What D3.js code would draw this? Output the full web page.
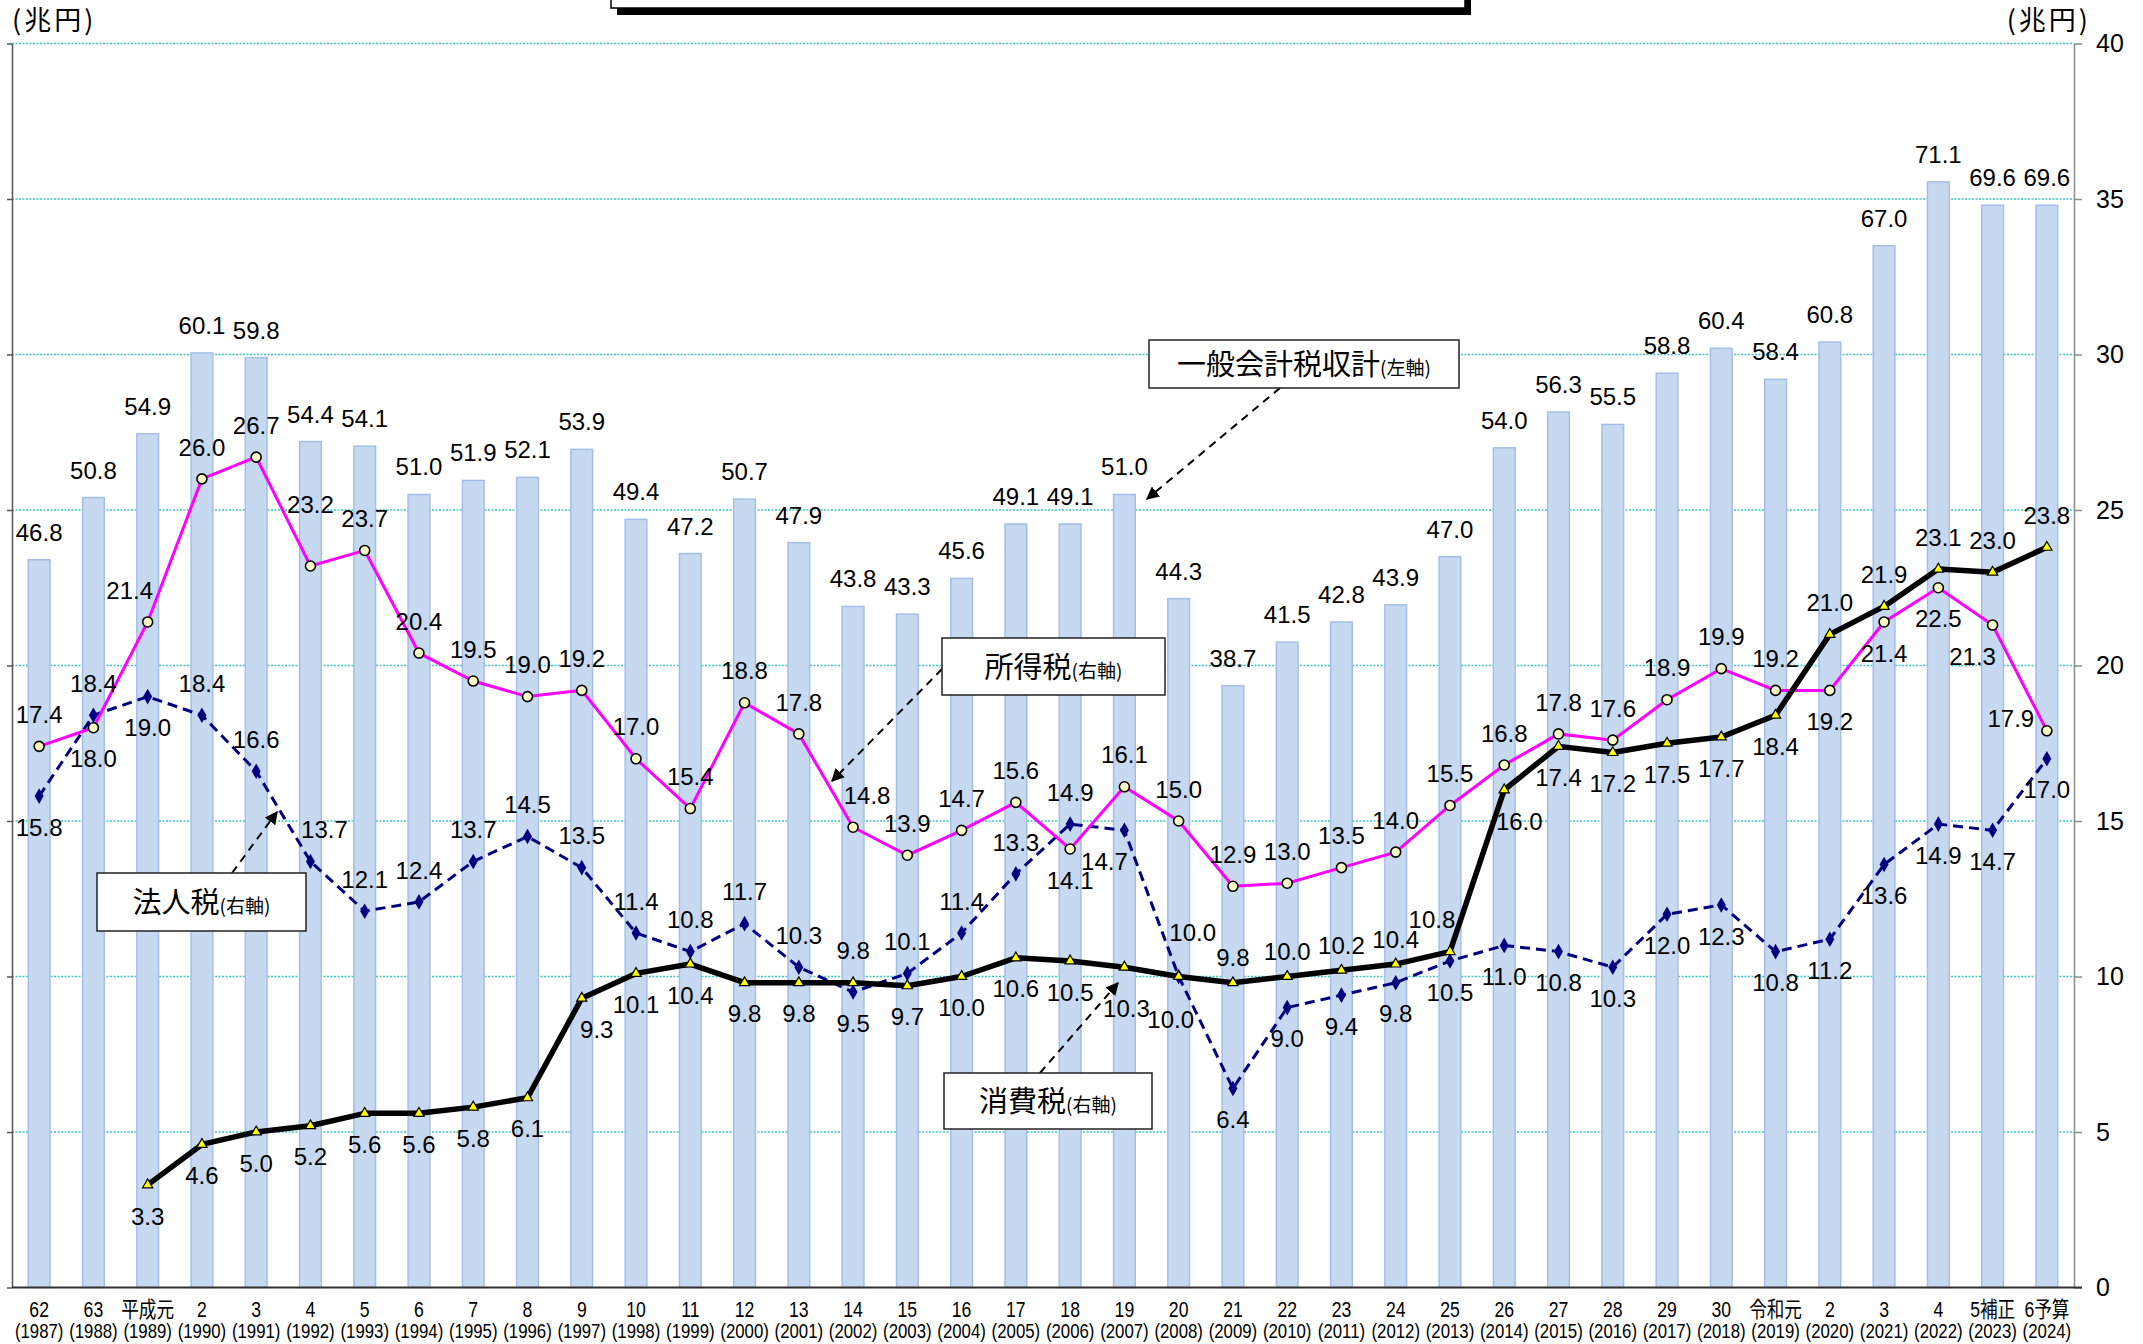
<!DOCTYPE html>
<html lang="ja">
<head>
<meta charset="utf-8">
<title>一般会計税収の推移</title>
<script src="https://d3js.org/d3.v7.min.js"></script>
<style>
  body { margin: 0; background: #fff; }
  text { font-family: "Liberation Sans", Arial, "Noto Sans CJK JP", sans-serif; fill: #000; }
  .jp { font-family: "Noto Sans CJK JP", sans-serif; }
</style>
</head>
<body>
<div id="chart"></div>
<script>
// 年度（和暦・西暦）
var eras = ["62","63","平成元","2","3","4","5","6","7","8","9","10","11","12","13","14","15","16","17","18","19","20",
            "21","22","23","24","25","26","27","28","29","30","令和元","2","3","4","5補正","6予算"];
var years = ["(1987)","(1988)","(1989)","(1990)","(1991)","(1992)","(1993)","(1994)","(1995)","(1996)","(1997)","(1998)",
             "(1999)","(2000)","(2001)","(2002)","(2003)","(2004)","(2005)","(2006)","(2007)","(2008)","(2009)","(2010)",
             "(2011)","(2012)","(2013)","(2014)","(2015)","(2016)","(2017)","(2018)","(2019)","(2020)","(2021)","(2022)",
             "(2023)","(2024)"];

// 一般会計税収計（左軸）
var total = [46.8,50.8,54.9,60.1,59.8,54.4,54.1,51.0,51.9,52.1,53.9,49.4,47.2,50.7,47.9,43.8,43.3,45.6,49.1,49.1,
             51.0,44.3,38.7,41.5,42.8,43.9,47.0,54.0,56.3,55.5,58.8,60.4,58.4,60.8,67.0,71.1,69.6,69.6];
// 所得税（右軸）
var income = [17.4,18.0,21.4,26.0,26.7,23.2,23.7,20.4,19.5,19.0,19.2,17.0,15.4,18.8,17.8,14.8,13.9,14.7,15.6,14.1,
              16.1,15.0,12.9,13.0,13.5,14.0,15.5,16.8,17.8,17.6,18.9,19.9,19.2,19.2,21.4,22.5,21.3,17.9];
// 法人税（右軸）
var corp = [15.8,18.4,19.0,18.4,16.6,13.7,12.1,12.4,13.7,14.5,13.5,11.4,10.8,11.7,10.3,9.5,10.1,11.4,13.3,14.9,
            14.7,10.0,6.4,9.0,9.4,9.8,10.5,11.0,10.8,10.3,12.0,12.3,10.8,11.2,13.6,14.9,14.7,17.0];
// 消費税（右軸）
var consumption = [null,null,3.3,4.6,5.0,5.2,5.6,5.6,5.8,6.1,9.3,10.1,10.4,9.8,9.8,9.8,9.7,10.0,10.6,10.5,
                   10.3,10.0,9.8,10.0,10.2,10.4,10.8,16.0,17.4,17.2,17.5,17.7,18.4,21.0,21.9,23.1,23.0,23.8];

var rightTicks = [0,5,10,15,20,25,30,35,40];

// label placement (a=above, b=below, l=left ...)
var incomePos = ["a","b","al","a","a","aa","a","a","a","a","a","a","a","a","a","ar","a","a","a","b",
                 "a","a","a","a","a","a","a","a","a","a","a","a","a","b","b","b","bl","l"];
var corpPos = ["b","a","b","a","a","ar","a","a","a","a","a","a","a","a","a","b","a","a","a","a",
               "bl","ah","b","b","b","b","b","b","b","b","b","b","b","b","b","b","b","b"];
var consPos = [null,null,"b","b","b","b","b","b","b","b","br","b","b","b","b","a","b","b","b","b",
               "bb","bbl","as","as","as","as","al","br","b","b","b","b","b","a","a","a","a","a"];

var offsets = { a:[0,-32], aa:[0,-62], ah:[14,-44], as:[0,-25], b:[0,31], bb:[2,41], bbl:[-8,43],
                al:[-18,-32], ar:[14,-32], bl:[-20,31], br:[15,31], l:[-36,-12] };

var W = 2143, H = 1344;
var plot = { left: 12, right: 2074, top: 43.5, bottom: 1287.5 };

var svg = d3.select("#chart").append("svg")
    .attr("width", W).attr("height", H)
    .style("background", "#fff");

var x = d3.scaleBand().domain(years).range([plot.left, plot.right]).paddingInner(0.6).paddingOuter(0.3);
var yL = d3.scaleLinear().domain([0, 80]).range([plot.bottom, plot.top]);
var yR = d3.scaleLinear().domain([0, 40]).range([plot.bottom, plot.top]);
function cx(i) { return x(years[i]) + x.bandwidth() / 2; }

var defs = svg.append("defs");
defs.append("marker")
    .attr("id", "arrow")
    .attr("viewBox", "0 0 10 10")
    .attr("refX", 9).attr("refY", 5)
    .attr("markerWidth", 13).attr("markerHeight", 13)
    .attr("markerUnits", "userSpaceOnUse")
    .attr("orient", "auto")
  .append("path")
    .attr("d", "M0,0 L10,5 L0,10 z")
    .attr("fill", "#000");

// title box (cut at the top)
svg.append("rect").attr("x", 617).attr("y", -20).attr("width", 854).attr("height", 35).attr("fill", "#000");
svg.append("rect").attr("x", 611).attr("y", -20).attr("width", 854).attr("height", 28)
    .attr("fill", "#fff").attr("stroke", "#000").attr("stroke-width", 1.5);

// gridlines
svg.append("g").selectAll("line")
  .data(rightTicks.filter(function(t) { return t > 0; }))
  .enter().append("line")
    .attr("x1", plot.left).attr("x2", plot.right)
    .attr("y1", function(d) { return yR(d); })
    .attr("y2", function(d) { return yR(d); })
    .attr("stroke", "#3cc6c6")
    .attr("stroke-width", 1.3)
    .attr("stroke-dasharray", "2,1.5");

// bars
svg.append("g").selectAll("rect")
  .data(total)
  .enter().append("rect")
    .attr("x", function(d, i) { return x(years[i]); })
    .attr("y", function(d) { return yL(d); })
    .attr("width", x.bandwidth())
    .attr("height", function(d) { return plot.bottom - yL(d); })
    .attr("fill", "#c6d9f1")
    .attr("stroke", "#a4bfe7")
    .attr("stroke-width", 1.5);

svg.append("g").selectAll("text")
  .data(total)
  .enter().append("text")
    .attr("x", function(d, i) { return cx(i); })
    .attr("y", function(d) { return yL(d) - 19; })
    .attr("text-anchor", "middle")
    .style("font-size", "24px")
    .text(function(d) { return d.toFixed(1); });

// axes
var leftAxis = svg.append("g")
    .attr("transform", "translate(" + plot.left + ",0)")
    .call(d3.axisLeft(yL).tickValues(d3.range(0, 81, 10)).tickSize(5).tickSizeOuter(0).tickFormat(""));
leftAxis.selectAll("path, line").attr("stroke", "#555").attr("stroke-width", 1.5);

var rightAxis = svg.append("g")
    .attr("transform", "translate(" + plot.right + ",0)")
    .call(d3.axisRight(yR).tickValues(rightTicks).tickSize(8).tickSizeOuter(0).tickPadding(14));
rightAxis.selectAll("path, line").attr("stroke", "#8c8c8c").attr("stroke-width", 1.5);
rightAxis.selectAll("text")
    .style("font-size", "25px")
    .style("font-family", "'Liberation Sans', Arial, sans-serif");

svg.append("line")
    .attr("x1", plot.left).attr("x2", plot.right + 8)
    .attr("y1", plot.bottom).attr("y2", plot.bottom)
    .attr("stroke", "#333").attr("stroke-width", 2);

// x labels
var xl = svg.append("g").selectAll("g")
  .data(years)
  .enter().append("g")
    .attr("transform", function(d, i) { return "translate(" + cx(i) + "," + plot.bottom + ")"; });
xl.append("text")
    .attr("y", 30)
    .attr("text-anchor", "middle")
    .attr("transform", "scale(0.8,1)")
    .style("font-size", "22px")
    .text(function(d, i) { return eras[i]; });
xl.append("text")
    .attr("y", 51)
    .attr("text-anchor", "middle")
    .attr("transform", "scale(0.8,1)")
    .style("font-size", "21px")
    .text(function(d) { return d; });

// unit labels
svg.append("text").attr("class", "jp").attr("x", 12).attr("y", 30)
    .style("font-size", "27px").style("letter-spacing", "3px").text("(兆円)");
svg.append("text").attr("class", "jp").attr("x", 2091).attr("y", 30).attr("text-anchor", "end")
    .style("font-size", "27px").style("letter-spacing", "3px").text("(兆円)");

// lines
function lineGen() {
  return d3.line()
    .defined(function(d) { return d != null; })
    .x(function(d, i) { return cx(i); })
    .y(function(d) { return yR(d); });
}

svg.append("path").datum(corp)
    .attr("d", lineGen())
    .attr("fill", "none").attr("stroke", "#000080")
    .attr("stroke-width", 3).attr("stroke-dasharray", "10,6");
svg.append("path").datum(income)
    .attr("d", lineGen())
    .attr("fill", "none").attr("stroke", "#ff00ff").attr("stroke-width", 3);
svg.append("path").datum(consumption)
    .attr("d", lineGen())
    .attr("fill", "none").attr("stroke", "#000").attr("stroke-width", 5.5)
    .attr("stroke-linejoin", "round");

// markers
svg.append("g").selectAll("path")
  .data(corp)
  .enter().append("path")
    .attr("transform", function(d, i) { return "translate(" + cx(i) + "," + yR(d) + ")"; })
    .attr("d", d3.symbol().type(d3.symbolDiamond).size(70))
    .attr("fill", "#000080");

svg.append("g").selectAll("circle")
  .data(income)
  .enter().append("circle")
    .attr("cx", function(d, i) { return cx(i); })
    .attr("cy", function(d) { return yR(d); })
    .attr("r", 5)
    .attr("fill", "#ffffc8")
    .attr("stroke", "#000")
    .attr("stroke-width", 1.6);

svg.append("g").selectAll("path")
  .data(consumption.map(function(d, i) { return { v: d, i: i }; }).filter(function(d) { return d.v != null; }))
  .enter().append("path")
    .attr("transform", function(d) { return "translate(" + cx(d.i) + "," + yR(d.v) + ")"; })
    .attr("d", d3.symbol().type(d3.symbolTriangle).size(45))
    .attr("fill", "#ffff00")
    .attr("stroke", "#000")
    .attr("stroke-width", 1.2);

// value labels
function addLabels(values, pos) {
  svg.append("g").selectAll("text")
    .data(values.map(function(d, i) { return { v: d, i: i, p: pos[i] }; }).filter(function(d) { return d.v != null; }))
    .enter().append("text")
      .attr("x", function(d) { return cx(d.i) + offsets[d.p][0]; })
      .attr("y", function(d) { return yR(d.v) + offsets[d.p][1]; })
      .attr("dy", "0.36em")
      .attr("text-anchor", "middle")
      .style("font-size", "24px")
      .text(function(d) { return d.v.toFixed(1); });
}
addLabels(income, incomePos);
addLabels(corp, corpPos);
addLabels(consumption, consPos);

// annotations
var notes = [
  { main: "一般会計税収計", sub: "(左軸)", box: [1149, 340, 310, 48], from: [1280, 388], to: [1147, 499] },
  { main: "所得税", sub: "(右軸)", box: [942, 638, 223, 57], from: [942, 669], to: [832, 781] },
  { main: "法人税", sub: "(右軸)", box: [97, 873, 209, 58], from: [232, 873], to: [277, 812] },
  { main: "消費税", sub: "(右軸)", box: [944, 1073, 208, 56], from: [1040, 1073], to: [1118, 983] }
];

var ng = svg.append("g").selectAll("g").data(notes).enter().append("g");
ng.append("line")
    .attr("x1", function(d) { return d.from[0]; }).attr("y1", function(d) { return d.from[1]; })
    .attr("x2", function(d) { return d.to[0]; }).attr("y2", function(d) { return d.to[1]; })
    .attr("stroke", "#000").attr("stroke-width", 2)
    .attr("stroke-dasharray", "8,6")
    .attr("marker-end", "url(#arrow)");
ng.append("rect")
    .attr("x", function(d) { return d.box[0]; }).attr("y", function(d) { return d.box[1]; })
    .attr("width", function(d) { return d.box[2]; }).attr("height", function(d) { return d.box[3]; })
    .attr("fill", "#fff").attr("stroke", "#222").attr("stroke-width", 1.5);
var nt = ng.append("text")
    .attr("class", "jp")
    .attr("x", function(d) { return d.box[0] + d.box[2] / 2; })
    .attr("y", function(d) { return d.box[1] + d.box[3] / 2 + 11; })
    .attr("text-anchor", "middle");
nt.append("tspan").style("font-size", "29px").text(function(d) { return d.main; });
nt.append("tspan").style("font-size", "19px").text(function(d) { return d.sub; });
</script>
</body>
</html>
